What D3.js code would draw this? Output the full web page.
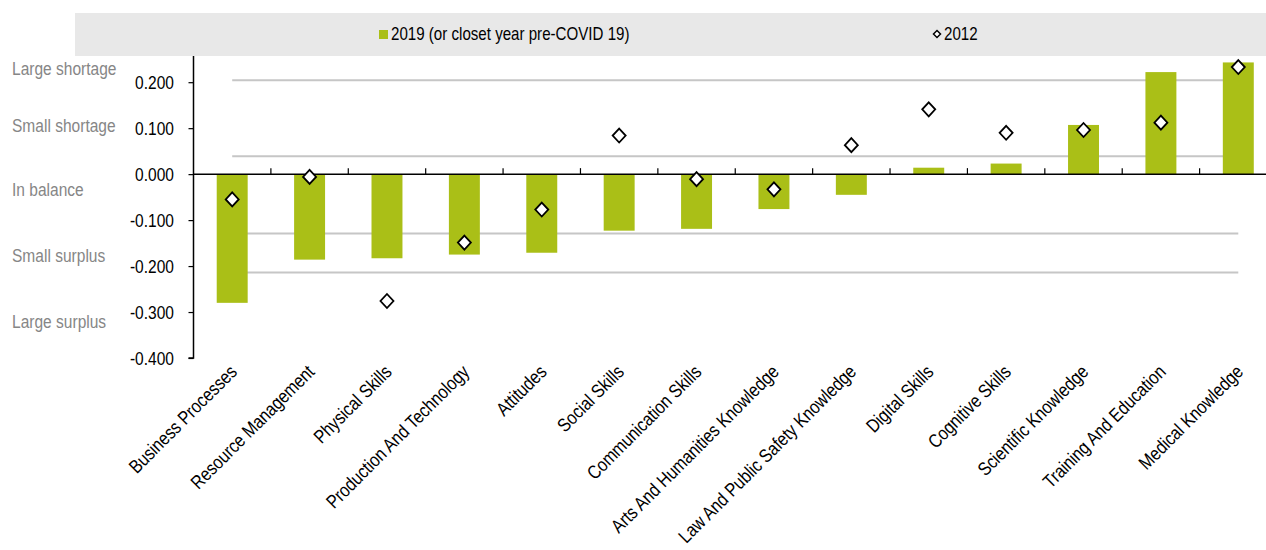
<!DOCTYPE html>
<html>
<head>
<meta charset="utf-8">
<title>Skill imbalances</title>
<script src="https://d3js.org/d3.v7.min.js"></script>
<style>
html, body { margin: 0; padding: 0; background: #fff; }
svg { display: block; font-family: "Liberation Sans", Arial, sans-serif; }
</style>
</head>
<body>
<div id="chart"></div>
<script>
// data
var categories = ["Business Processes", "Resource Management", "Physical Skills", "Production And Technology",
	"Attitudes", "Social Skills", "Communication Skills", "Arts And Humanities Knowledge",
	"Law And Public Safety Knowledge", "Digital Skills", "Cognitive Skills", "Scientific Knowledge",
	"Training And Education", "Medical Knowledge"];
var values2019 = [-0.280, -0.186, -0.183, -0.175, -0.171, -0.123, -0.119, -0.076, -0.045, 0.014, 0.023, 0.107, 0.222, 0.243];
var values2012 = [-0.055, -0.006, -0.276, -0.149, -0.077, 0.084, -0.011, -0.033, 0.063, 0.141, 0.090, 0.096, 0.112, 0.233];
var thresholds = [0.204, 0.039, -0.129, -0.214];
var zoneLabels = ["Large shortage", "Small shortage", "In balance", "Small surplus", "Large surplus"];
var zoneValues = [0.215, 0.091, -0.048, -0.191, -0.335];
var yTicks = [-0.4, -0.3, -0.2, -0.1, 0, 0.1, 0.2];
var seriesNames = ["2019 (or closet year pre-COVID 19)", "2012"];

var W = 1266, H = 550;
var green = "#aabf17";
var narrow = 0.84;   // squeeze text to look like Arial Narrow

var svg = d3.select("#chart").append("svg")
	.attr("width", W)
	.attr("height", H);

var x = d3.scaleBand()
	.domain(categories)
	.range([193.5, 1277])
	.padding(0);

var y = d3.scaleLinear()
	.domain([-0.4, 0.257])
	.range([358, 56]);

var barW = x.bandwidth() * 0.4;
var cx = d => x(d) + x.bandwidth() / 2;

// legend band
svg.append("rect")
	.attr("x", 75).attr("y", 13)
	.attr("width", W - 75).attr("height", 43)
	.attr("fill", "#e8e8e8");

svg.append("rect")
	.attr("x", 379).attr("y", 30)
	.attr("width", 9).attr("height", 9)
	.attr("fill", green);
svg.append("text")
	.attr("transform", `translate(391,40) scale(${narrow},1)`)
	.attr("font-size", 18)
	.attr("fill", "#000")
	.text(seriesNames[0]);

svg.append("path")
	.attr("d", "M0,-3.5L3.5,0L0,3.5L-3.5,0Z")
	.attr("transform", "translate(937,34)")
	.attr("fill", "#fff")
	.attr("stroke", "#000")
	.attr("stroke-width", 1.5);
svg.append("text")
	.attr("transform", `translate(944,40) scale(${narrow},1)`)
	.attr("font-size", 18)
	.attr("fill", "#000")
	.text(seriesNames[1]);

// zone labels on the far left
svg.append("g")
	.selectAll("text")
	.data(zoneLabels)
	.join("text")
	.attr("transform", (d, i) => `translate(12,${y(zoneValues[i])}) scale(${narrow},1)`)
	.attr("font-size", 18.5)
	.attr("fill", "#868686")
	.text(d => d);

// threshold lines
var firstC = cx(categories[0]), lastC = cx(categories[categories.length - 1]);
svg.append("g")
	.selectAll("line")
	.data(thresholds)
	.join("line")
	.attr("x1", firstC).attr("x2", lastC)
	.attr("y1", d => y(d)).attr("y2", d => y(d))
	.attr("stroke", "#c6c6c6")
	.attr("stroke-width", 2);

// bars
svg.append("g")
	.selectAll("rect")
	.data(categories)
	.join("rect")
	.attr("x", d => cx(d) - barW / 2)
	.attr("width", barW)
	.attr("y", (d, i) => y(Math.max(0, values2019[i])))
	.attr("height", (d, i) => Math.abs(y(values2019[i]) - y(0)))
	.attr("fill", green);

// y axis
var yAxis = d3.axisLeft(y)
	.tickValues(yTicks)
	.tickSize(5)
	.tickFormat(d => d3.format(".3f")(d).replace("\u2212", "-"));
var gy = svg.append("g")
	.attr("transform", "translate(193.5,0)")
	.call(yAxis);
gy.select(".domain").attr("stroke", "#000").attr("stroke-width", 1.5)
	.attr("d", `M-5,${y(-0.4)}H0V${y(0.257)}`);
gy.selectAll(".tick line").attr("stroke", "#000").attr("stroke-width", 1.2);
gy.selectAll(".tick text")
	.attr("x", 0)
	.attr("dy", "0.36em")
	.attr("transform", `translate(-19.5,0) scale(${narrow},1)`)
	.attr("font-size", 18.5)
	.attr("font-family", null)
	.attr("fill", "#000");

// x axis at zero
var gx = svg.append("g").attr("transform", `translate(0,${y(0)})`);
gx.append("line")
	.attr("x1", 193.5).attr("x2", W)
	.attr("stroke", "#000").attr("stroke-width", 1.5);
gx.selectAll("line.tk")
	.data(categories.slice(1))
	.join("line")
	.attr("class", "tk")
	.attr("x1", d => x(d)).attr("x2", d => x(d))
	.attr("y1", 0).attr("y2", -6)
	.attr("stroke", "#000").attr("stroke-width", 1.2);

// diamonds for 2012
svg.append("g")
	.selectAll("path")
	.data(categories)
	.join("path")
	.attr("d", "M0,-7L6.5,0L0,7L-6.5,0Z")
	.attr("transform", (d, i) => `translate(${cx(d)},${y(values2012[i])})`)
	.attr("fill", "#fff")
	.attr("stroke", "#000")
	.attr("stroke-width", 1.8);

// category labels
svg.append("g")
	.selectAll("text")
	.data(categories)
	.join("text")
	.attr("transform", d => `translate(${cx(d) + 6},${y(-0.4) + 15}) rotate(-45) scale(${narrow},1)`)
	.attr("text-anchor", "end")
	.attr("font-size", 19)
	.attr("fill", "#000")
	.text(d => d);
</script>
</body>
</html>
